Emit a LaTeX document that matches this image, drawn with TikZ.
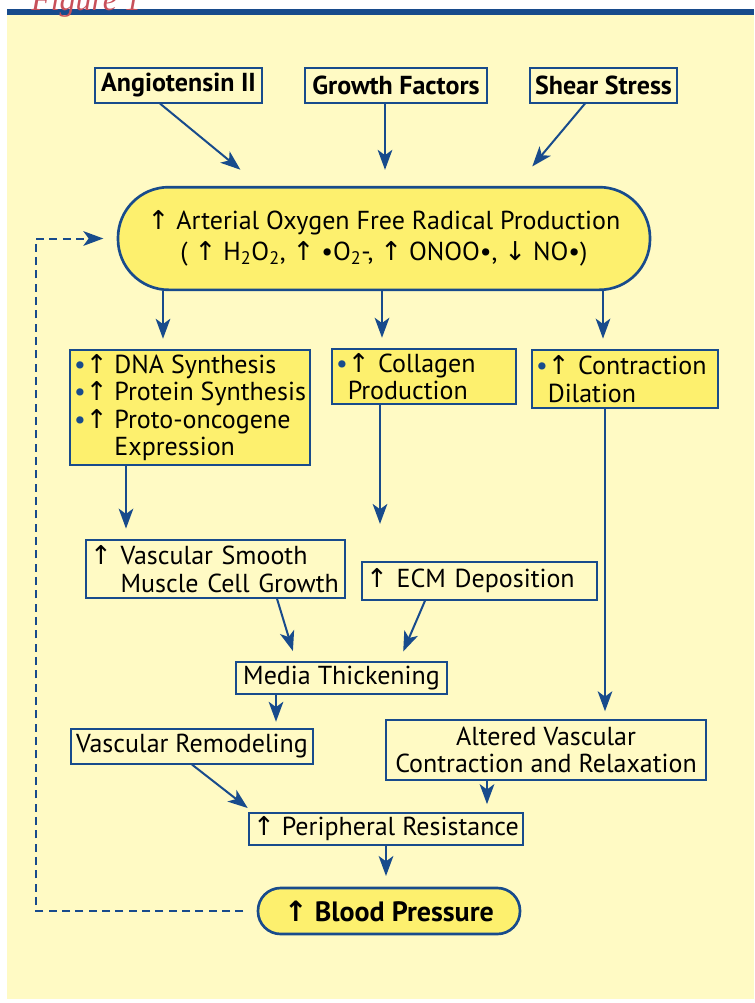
\documentclass[tikz,border=0pt]{standalone}
\usepackage{fontspec}
\setmainfont{PT Sans}
\newfontfamily\arrowfont{DejaVu Sans}
\newfontfamily\figfont{Liberation Serif}
\usetikzlibrary{positioning,calc,arrows.meta}

\definecolor{flowblue}{RGB}{24,75,140}
\definecolor{paleyellow}{RGB}{255,250,196}
\definecolor{boxyellow}{RGB}{253,240,110}
\definecolor{figred}{RGB}{200,80,90}

\newcommand{\upar}{{\arrowfont\char"2191}}
\newcommand{\dnar}{{\arrowfont\char"2193}}
\newcommand{\bul}{{\color{flowblue}\textbullet}}

\tikzset{
  plainbox/.style={draw=flowblue, line width=1.1pt, fill=paleyellow, inner sep=3pt, minimum height=24pt},
  hotbox/.style={plainbox, fill=boxyellow},
  topbox/.style={plainbox, font=\fontsize{19.5}{22}\selectfont\bfseries, minimum height=26pt},
  pill/.style={draw=flowblue, line width=2pt, fill=boxyellow, rounded corners=38pt},
  flow/.style={draw=flowblue, line width=1.5pt, -{Stealth[length=15pt,width=11pt,inset=4pt]}, shorten >=8pt},
  feedback/.style={flow, dash pattern=on 6pt off 4pt, shorten <=10pt, shorten >=10pt},
}

\begin{document}
\begin{tikzpicture}[x=0.75pt, y=-0.75pt, font={\fontsize{19.5}{20.5}\selectfont}]
    \useasboundingbox (0,0) rectangle (754,1003);
    % page
    \fill[paleyellow] (7,14.7) rectangle (754,999);
    \fill[flowblue] (7,9.3) rectangle (754,14.7);
    \node[anchor=base west, text=figred, font=\fontsize{24}{24}\figfont\itshape, inner sep=0pt] (figlabel) at (31,10) {Figure 1};

    % inputs
    \node[topbox, minimum width=125pt] (angio) at (178.5,85.5) {Angiotensin II};
    \node[topbox, minimum width=136.5pt] (growth) at (396,85.5) {Growth Factors};
    \node[topbox, minimum width=110pt] (shear) at (603.5,85.5) {Shear Stress};

    % radicals
    \node[pill, minimum width=399pt, minimum height=77pt, align=center,
          font={\fontsize{19.5}{23}\selectfont}] (radical) at (384,238.5)
        {\upar\ Arterial Oxygen Free Radical Production\\
         ( \upar\ H\textsubscript{2}O\textsubscript{2}, \upar\ \textbullet O\textsubscript{2}-, \upar\ ONOO\textbullet, \dnar\ NO\textbullet)};

    % cell level
    \node[hotbox, align=left, minimum width=180pt, minimum height=86pt] (dna) at (190,407.5)
        {\bul\upar\ DNA Synthesis\\ \bul\upar\ Protein Synthesis\\ \bul\upar\ Proto-oncogene\\ \phantom{\bul\upar\ }Expression};
    \node[hotbox, text width=132pt, align=left, minimum height=40pt] (collagen) at (424,376.5)
        {\bul\upar\ Collagen\\ \phantom{\bul}Production};
    \node[hotbox, text width=133.5pt, align=left, minimum height=43.5pt] (contract) at (625,379)
        {\bul\upar\ Contraction\\ \phantom{\bul}Dilation};

    % tissue level
    \node[plainbox, text width=188pt, align=left, minimum height=43.5pt] (vsmc) at (215.5,569)
        {\upar\ Vascular Smooth\\ \phantom{\upar\ }Muscle Cell Growth};
    \node[plainbox, text width=170pt, align=left, minimum height=28.5pt] (ecm) at (479.5,581)
        {\upar\ ECM Deposition};
    \node[plainbox, minimum width=158pt] (media) at (341.5,678) {Media Thickening};
    \node[plainbox, minimum width=181.5pt, minimum height=26pt] (remodel) at (192,746.5) {Vascular Remodeling};
    \node[plainbox, minimum width=240pt, minimum height=45pt, align=center] (altered) at (546,750)
        {Altered Vascular\\ Contraction and Relaxation};
    \node[plainbox, minimum width=205.5pt] (periph) at (386,829) {\upar\ Peripheral Resistance};
    \node[pill, minimum width=196.5pt, minimum height=34.5pt, rounded corners=17pt,
          font={\fontsize{21}{22}\selectfont\bfseries}] (bp) at (389,911) {\upar\ Blood Pressure};

    % arrows
    \draw[flow, shorten >=19pt] ($(angio.south)+(-18.5,0)$) -- ($(radical.north)+(-124,0)$);
    \draw[flow, shorten >=12pt] ($(growth.south)+(-11,0)$) coordinate (g) -- (g |- radical.north);
    \draw[flow, shorten >=19pt] ($(shear.south)+(-18.5,0)$) -- ($(radical.north)+(132,0)$);

    \coordinate (dtop) at ($(dna.north)+(-27,0)$);
    \coordinate (ctop) at ($(collagen.north)+(-42,0)$);
    \coordinate (ktop) at ($(contract.north)+(-22,0)$);
    \draw[flow] (dtop |- radical.south) -- (dtop);
    \draw[flow] (ctop |- radical.south) -- (ctop);
    \draw[flow] (ktop |- radical.south) -- (ktop);

    \draw[flow] ($(dna.south)+(-64,0)$) coordinate (d) -- (d |- vsmc.north);
    \draw[flow, shorten >=28pt] ($(collagen.south)+(-44,0)$) coordinate (c) -- (c |- ecm.north);
    \draw[flow, shorten >=6pt] ($(contract.south)+(-20,0)$) coordinate (k) -- (k |- altered.north);

    \draw[flow] ($(vsmc.south)+(61.5,0)$) -- ($(media.north)+(-45.5,0)$);
    \draw[flow] ($(ecm.south)+(-54.5,0)$) -- ($(media.north)+(57.5,0)$);
    \draw[flow, shorten >=5pt] ($(media.south)+(-65.5,0)$) coordinate (m) -- (m |- remodel.north);

    \draw[flow, shorten >=5pt] (remodel.south) -- ($(periph.north)+(-133,0)$);
    \draw[flow, shorten >=6pt] ($(altered.south)+(-59,0)$) coordinate (a) -- (a |- periph.north);
    \draw[flow] (periph.south) -- (periph.south |- bp.north);

    % feedback loop
    \coordinate (loop) at (36,570);
    \draw[feedback] (bp.west) -| (loop) |- (radical.west);
\end{tikzpicture}
\end{document}
